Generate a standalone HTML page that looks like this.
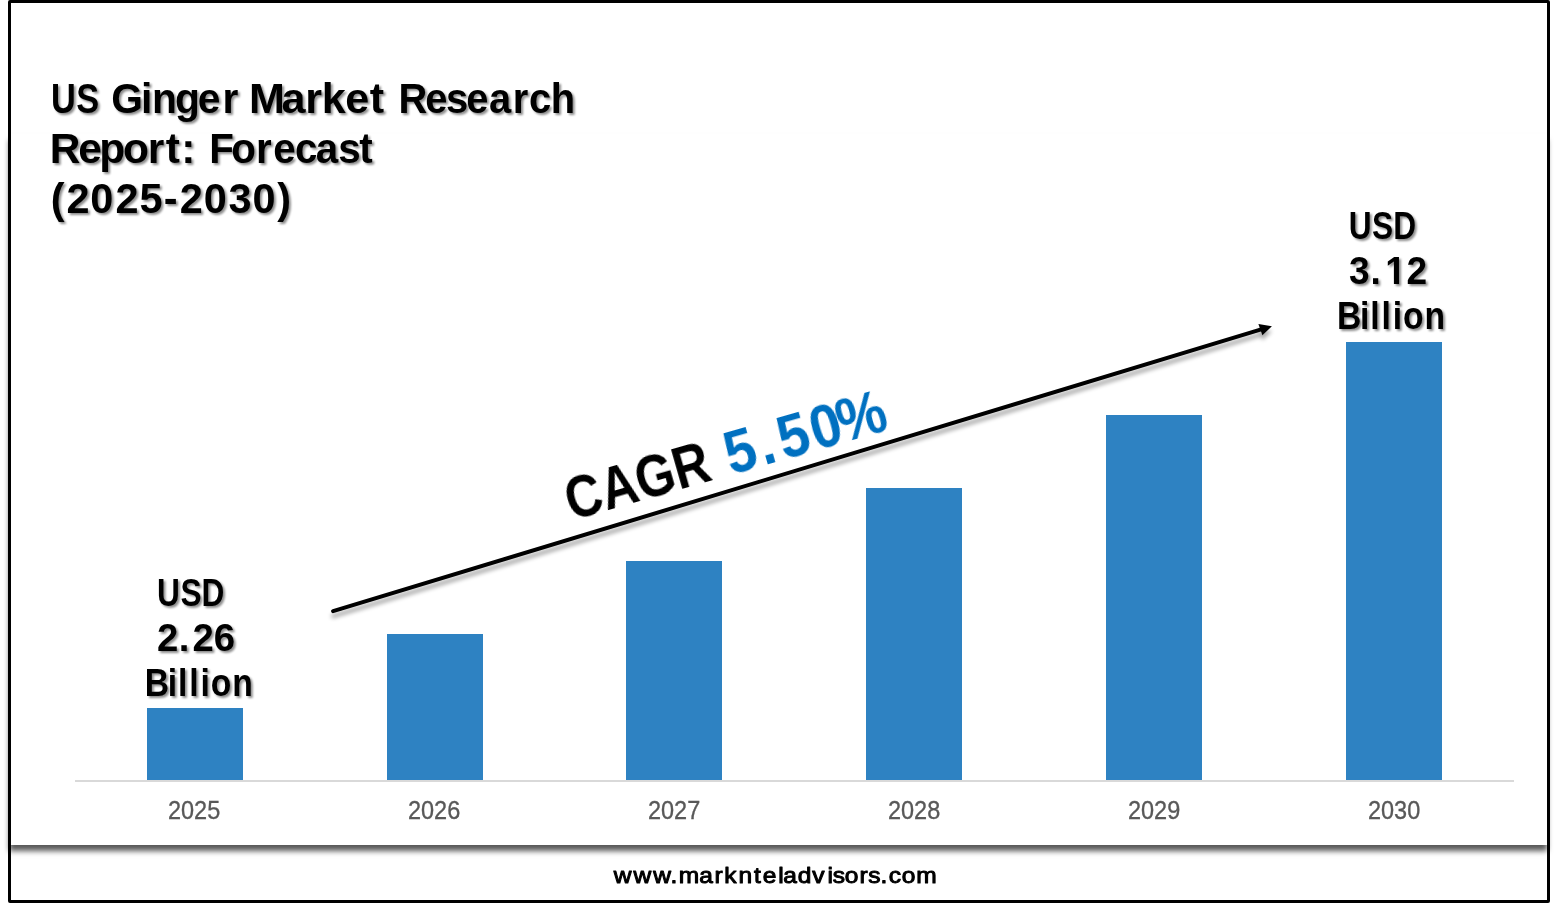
<!DOCTYPE html>
<html lang="en">
<head>
<meta charset="utf-8">
<title>US Ginger Market Research Report: Forecast (2025-2030)</title>
<style>
html,body{margin:0;padding:0;background:#fff;}
body{width:1557px;height:905px;position:relative;overflow:hidden;font-family:"Liberation Sans",sans-serif;}
.panel{position:absolute;left:9px;top:134px;width:1539px;height:711px;background:#fff;box-shadow:-0.5px 6px 5.5px rgba(0,0,0,.66);}
.frame{position:absolute;left:8px;top:0;width:1536px;height:897px;border:3px solid #000;border-radius:2px;}
.bar{position:absolute;width:96px;background:#2e82c2;}
.axis{position:absolute;left:75px;top:780px;width:1439px;height:2px;background:#d9d9d9;}
.w{position:absolute;white-space:nowrap;line-height:1;transform-origin:0 0;}
.yr{font-size:26px;color:#595959;-webkit-text-stroke:0.35px #595959;top:797px;}
svg.ov{position:absolute;left:0;top:0;overflow:visible;}
svg.ov text{font-family:"Liberation Sans",sans-serif;font-weight:bold;fill:#000;}
svg.ov text.blue{fill:#0070c0;}
svg.ov text.foot{font-weight:normal;stroke:#000;stroke-linejoin:round;}
</style>
</head>
<body>
<div class="panel"></div>
<div class="frame"></div>
<div class="bar" style="left:147px;top:708px;height:72px"></div>
<div class="bar" style="left:387px;top:634px;height:146px"></div>
<div class="bar" style="left:626px;top:561px;height:219px"></div>
<div class="bar" style="left:866px;top:488px;height:292px"></div>
<div class="bar" style="left:1106px;top:415px;height:365px"></div>
<div class="bar" style="left:1346px;top:342px;height:438px"></div>
<div class="axis"></div>
<svg class="ov" width="1557" height="905" viewBox="0 0 1557 905">
<defs>
<filter id="ls" x="-5%" y="-10%" width="110%" height="130%"><feGaussianBlur in="SourceAlpha" stdDeviation="2.0"/><feOffset dx="0" dy="4.6"/><feComponentTransfer><feFuncA type="linear" slope="0.35"/></feComponentTransfer><feMerge><feMergeNode/><feMergeNode in="SourceGraphic"/></feMerge></filter>
<filter id="ts" filterUnits="userSpaceOnUse" x="0" y="0" width="1557" height="905"><feGaussianBlur in="SourceAlpha" stdDeviation="1.0"/><feOffset dx="1.8" dy="1.8"/><feComponentTransfer><feFuncA type="linear" slope="0.45"/></feComponentTransfer><feMerge><feMergeNode/><feMergeNode in="SourceGraphic"/></feMerge></filter>
<clipPath id="c1"><path clip-rule="evenodd" d="M1330 240H1450V300H1330Z M1383.07 279.77H1393.91V285.90H1383.07Z M1399.04 279.77H1406.05V285.90H1399.04Z"/></clipPath>
</defs>
<g filter="url(#ls)">
<line x1="333.1" y1="611.1" x2="1262.0" y2="329.2" stroke="#000" stroke-width="4" stroke-linecap="round"/>
<polygon points="1271.9,326.2 1258.4,323.9 1262.4,335.2" fill="#000"/>
</g>
<g filter="url(#ts)">
<text transform="scale(0.8076,1)" x="63.31 94.32" y="112.9" font-size="42.5">US</text>
<text transform="scale(0.9584,1)" x="116.17 147.02 158.53 182.59 206.39 232.05" y="112.9" font-size="42.5">Ginger</text>
<text transform="scale(1.0148,1)" x="245.47 277.49 300.69 316.99 340.12 364.49" y="112.9" font-size="42.5">Market</text>
<text transform="scale(0.9379,1)" x="424.80 453.48 475.41 497.23 521.28 546.67 564.17 587.28" y="112.9" font-size="42.5">Research</text>
<text transform="scale(0.9996,1)" x="49.66 78.31 99.26 123.07 147.71 165.93 181.36" y="162.9" font-size="42.5">Report:</text>
<text transform="scale(0.9485,1)" x="220.53 243.90 269.81 288.06 310.99 332.92 356.54 378.89" y="162.9" font-size="42.5">Forecast</text>
<text transform="scale(0.9746,1)" x="52.10 68.34 92.61 118.44 143.08 167.93 184.39 208.99 234.41 259.08 284.57" y="213.0" font-size="42.5">(2025-2030)</text>
<text transform="scale(0.8263,1)" x="190.15 218.38 243.98" y="605.9" font-size="38.3">USD</text>
<text transform="scale(1.0006,1)" x="156.96 178.77 192.50 213.74" y="651.0" font-size="38.3">2.26</text>
<text transform="scale(0.8786,1)" x="164.76 190.88 202.62 215.37 228.12 239.91 264.35" y="695.9" font-size="38.3">Billion</text>
<text transform="scale(0.8263,1)" x="1632.19 1660.43 1686.03" y="238.9" font-size="38.3">USD</text>
<g clip-path="url(#c1)"><text transform="scale(0.9678,1)" x="1393.91 1416.10 1431.33 1453.41" y="283.9" font-size="38.3">3.12</text></g>
<text transform="scale(0.8786,1)" x="1521.72 1547.83 1559.58 1572.32 1585.07 1596.87 1621.30" y="328.9" font-size="38.3">Billion</text>
</g>
<g transform="translate(573.6,520.0) rotate(-16.0)">
<text transform="scale(0.8424,1)" x="-2.26" y="0.3" font-size="59.7">CAGR</text>
<text transform="scale(0.9000,1)" x="181.92 220.28 243.36 280.63 311.50" y="0.0" font-size="61.8" class="blue">5.50%</text>
</g>
<text transform="scale(1.0764,1)" x="570.16 588.65 606.81 622.89 630.64 649.53 663.80 672.88 686.17 700.40 708.57 723.06 727.70 741.18 754.63 768.76 773.71 784.86 798.61 806.71 817.94 825.74 837.80 851.19" y="882.6" font-size="22.8" class="foot" stroke-width="1.0">www.marknteladvisors.com</text>
</svg>
<span class="w yr" style="left:168.35px;transform:scaleX(0.903)">2025</span>
<span class="w yr" style="left:408.45px;transform:scaleX(0.903)">2026</span>
<span class="w yr" style="left:648.25px;transform:scaleX(0.903)">2027</span>
<span class="w yr" style="left:888.05px;transform:scaleX(0.903)">2028</span>
<span class="w yr" style="left:1127.85px;transform:scaleX(0.903)">2029</span>
<span class="w yr" style="left:1368.40px;transform:scaleX(0.903)">2030</span>
</body>
</html>
